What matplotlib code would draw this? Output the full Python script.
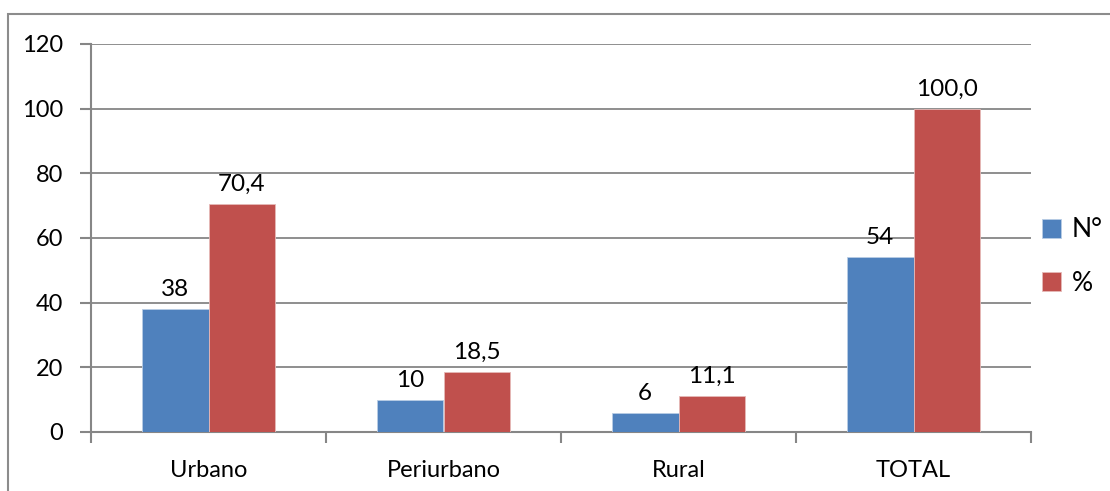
import matplotlib.pyplot as plt
import numpy as np
from matplotlib.patches import Rectangle

categories = ["Urbano", "Periurbano", "Rural", "TOTAL"]
n_values = [38, 10, 6, 54]
pct_values = [70.4, 18.5, 11.1, 100.0]
n_labels = ["38", "10", "6", "54"]
pct_labels = ["70,4", "18,5", "11,1", "100,0"]
yticks = [0, 20, 40, 60, 80, 100, 120]

blue = "#4F81BD"
red = "#C0504D"
grid = "#868686"

plt.rcParams["font.family"] = ["Lato", "DejaVu Sans"]

fig = plt.figure(figsize=(11.1, 4.91), dpi=100)
ax = fig.add_axes([91 / 1110, 1 - 432 / 491, 940 / 1110, 388 / 491])

# outer chart border
fig.patches.append(Rectangle((8 / 1110, -0.1), 1.2, 1 - 14 / 491 + 0.1,
                             transform=fig.transFigure, fill=False,
                             edgecolor="#8c8c8c", lw=1.5))

x = np.arange(len(categories))
w = 0.285
ax.bar(x - w / 2, n_values, w, color=blue, edgecolor="#b9cde5", lw=0.6, label="N°", zorder=3)
ax.bar(x + w / 2, pct_values, w, color=red, edgecolor="#e6b9b8", lw=0.6, label="%", zorder=3)

for i in range(len(categories)):
    ax.text(x[i] - w / 2, n_values[i] + 2.8, n_labels[i], ha="center", va="bottom", fontsize=17.5)
    ax.text(x[i] + w / 2, pct_values[i] + 2.8, pct_labels[i], ha="center", va="bottom", fontsize=17.5)

ax.set_xlim(-0.5, 3.5)
ax.set_ylim(0, 120)
ax.set_yticks(yticks)
ax.set_yticklabels([str(t) for t in yticks], fontsize=17)
ax.set_xticks(x)
ax.set_xticklabels(categories, fontsize=17)
ax.tick_params(axis="x", length=0, pad=20)
ax.tick_params(axis="y", length=8, width=1.5, color=grid, pad=12)
# category boundary ticks
ax.set_xticks(np.arange(-0.5, 4.0, 1.0), minor=True)
ax.tick_params(axis="x", which="minor", length=8, width=1.5, color=grid)

ax.yaxis.grid(True, color=grid, lw=1.3, zorder=0)
for s in ["top", "right"]:
    ax.spines[s].set_visible(False)
ax.spines["left"].set_color(grid)
ax.spines["bottom"].set_color(grid)
ax.spines["left"].set_linewidth(1.5)
ax.spines["bottom"].set_linewidth(1.5)
ax.set_axisbelow(True)

ax.legend(loc="center left", bbox_to_anchor=(1.0, 0.452), frameon=False, fontsize=19,
          handlelength=0.75, handleheight=0.75, handletextpad=0.4, labelspacing=1.08,
          borderaxespad=0, borderpad=0.4)

fig.savefig("out.png", dpi=100)
